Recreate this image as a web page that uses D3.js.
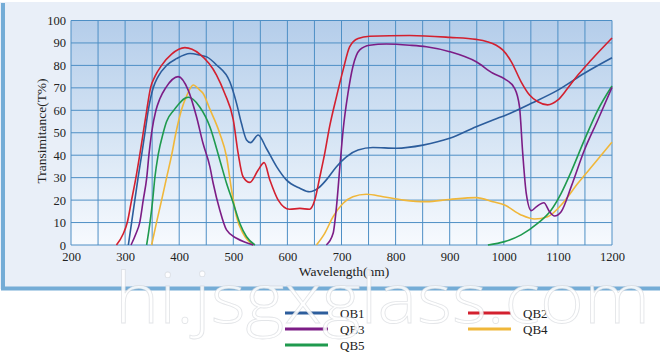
<!DOCTYPE html>
<html><head><meta charset="utf-8">
<script src="https://cdn.jsdelivr.net/npm/d3@7"></script>
<style>body{margin:0;background:#fff;}svg{display:block;}</style>
</head><body>
<svg id="c" width="660" height="353"></svg>
<script>
// ---- data ----
const seriesNames = ["QB1","QB2","QB3","QB4","QB5"];
const xTicks = [200,300,400,500,600,700,800,900,1000,1100,1200];
const yTicks = [0,10,20,30,40,50,60,70,80,90,100];
const qb1 = [[306,0],[312,10],[318,20],[324,30],[330.5,40],[336.7,50],[342.8,60],[352,70],[361,75],[376.7,80],[395,83],[420,85.3],[438,84.6],[451,83.8],[469,80.2],[493.6,72.7],[506,63.1],[515,54.2],[524.5,46.8],[532,45.6],[546,49],[561,43.1],[580,34.9],[598,29],[623,25.3],[641,23.7],[657,25.3],[672,29],[690.7,34.9],[709,39.3],[730.6,42.3],[758,43.4],[801.5,43.1],[850.6,44.5],[900,47.5],[949,52.7],[980,55.7],[1010,58.5],[1050.8,63.1],[1100,69],[1149,76.5],[1200,83.4]];
const qb2 = [[284,0],[296.6,5],[304,10],[312,20],[320,30],[327,40],[333.5,50],[340,60],[347,70],[355,75],[367.5,80],[386,85],[410.5,87.9],[438,85],[469,75.7],[484,67.6],[500,55.7],[509,40.8],[518,30.4],[530.6,27.9],[546,33.4],[557,36.7],[567.5,29],[583,20],[604,15.9],[623,16.3],[641,15.9],[650.6,20],[660,30.4],[669,40.8],[678,52.7],[690.7,66],[703,78],[715,88.3],[730.6,92],[752,93],[826,93.3],[900,92.5],[949,91.6],[986,89],[998,86.9],[1014,81.6],[1032,72.7],[1047.6,66.8],[1063,63.8],[1081,62.4],[1100,64.6],[1118,69.8],[1137,75.7],[1161.6,82.4],[1200,92.2]];
const qb3 = [[311,0],[320,5],[327,10],[333.5,20],[340,30],[344,40],[349,50],[357,60],[364,65],[375,70],[398,75],[416.6,69],[432,57.1],[444,45.3],[456.7,34.9],[462.8,27.5],[475,15.6],[487.5,6.7],[506,3],[524.5,1],[537,0],[600,null],[672,0],[684.5,5.2],[690.7,17],[697,34.9],[703,51.2],[712,67.6],[721,79.4],[733.7,86.9],[752,89],[783,89.5],[826,89],[857,88.3],[900,86.1],[949,81.6],[980,76.5],[1001.5,74],[1020,69.8],[1029,61.6],[1035,40.8],[1041.5,23],[1050.8,15.3],[1060,17],[1074,18.8],[1084.6,14.8],[1093.7,12.9],[1106,14.8],[1124.6,26],[1149,42.3],[1173.8,55.7],[1200,70.2]];
const qb4 = [[349,0],[358,10],[367.5,20],[376.7,30],[386,40],[394,50],[404,60],[414.8,67],[426,71.3],[438,69],[444,67.6],[456.7,60.5],[475,49.7],[487.5,39.3],[496.8,24.5],[506,12.6],[518,5.2],[537,0],[600,null],[653.7,0],[669,5.2],[684.5,12.6],[703,18.6],[721,21.5],[746,22.6],[776.7,21.5],[815,20],[857,19.3],[900,20.3],[949,21.1],[980,19.3],[1001.5,17.8],[1032,13.4],[1056.9,11.6],[1081,12.6],[1106,17.8],[1137,27.5],[1167.7,36.4],[1200,45.8]];
const qb5 = [[339.8,0],[346,10],[351,20],[355,30],[361,40],[370.5,50],[376.7,55],[390,60],[416.6,65.8],[438,61.5],[456.7,52.7],[475,37.9],[487.5,27.5],[500,18.6],[512,9.7],[524.5,3.7],[540,0],[700,null],[970.6,0],[1001.5,1.5],[1032,4.5],[1063,9.7],[1087.7,15.6],[1106,23],[1124.6,32.7],[1149,46.8],[1173.8,60.1],[1200,70.8]];
const seriesData = [qb1,qb2,qb3,qb4,qb5];
const seriesColors = ["#2c5d9c","#d3202f","#7c1d86","#f0b73a","#1f9a4e"];
const drawOrder = [3,4,2,0,1];

// ---- layout ----
const svg = d3.select("#c");
const L = 71, R = 612, T = 20.5, B = 245;
const x = d3.scaleLinear().domain([200,1200]).range([L,R]);
const y = d3.scaleLinear().domain([0,100]).range([B,T]);

const defs = svg.append("defs");
const g1 = defs.append("linearGradient").attr("id","pg").attr("x1",0).attr("y1",0).attr("x2",0).attr("y2",1);
g1.append("stop").attr("offset","0%").attr("stop-color","#b4cdea");
g1.append("stop").attr("offset","55%").attr("stop-color","#d8e6f5");
g1.append("stop").attr("offset","100%").attr("stop-color","#f7fafe");

// outer panel
svg.append("rect").attr("x",0).attr("y",2).attr("width",660).attr("height",287).attr("fill","#e9eff8");
svg.append("rect").attr("x",1).attr("y",3).attr("width",4).attr("height",287).attr("fill","#74acd6");
svg.append("rect").attr("x",1).attr("y",286.5).attr("width",659).attr("height",4).attr("fill","#74acd6");

// plot area
svg.append("rect").attr("x",L).attr("y",T).attr("width",R-L).attr("height",B-T).attr("fill","url(#pg)");

// grid
const grid = svg.append("g").attr("stroke","#4e8fc5").attr("stroke-width",1).attr("fill","none");
grid.selectAll("line.v").data(d3.range(200,1201,50)).join("line")
  .attr("x1",d=>x(d)).attr("x2",d=>x(d)).attr("y1",T).attr("y2",B);
grid.selectAll("line.h").data(d3.range(0,101,10)).join("line")
  .attr("x1",L).attr("x2",R).attr("y1",d=>y(d)).attr("y2",d=>y(d));

// axes labels
const xAxis = d3.axisBottom(x).tickValues(xTicks).tickFormat(d3.format("d")).tickSize(0).tickPadding(7);
const gx = svg.append("g").attr("transform",`translate(0,${B})`).call(xAxis);
gx.select(".domain").remove();
gx.selectAll("text").attr("font-family","'Liberation Serif','DejaVu Serif',serif").attr("font-size",12.5).attr("fill","#222");

const yAxis = d3.axisLeft(y).tickValues(yTicks).tickFormat(d3.format("d")).tickSize(0).tickPadding(5);
const gy = svg.append("g").attr("transform",`translate(${L},0)`).call(yAxis);
gy.select(".domain").remove();
gy.selectAll("text").attr("font-family","'Liberation Serif','DejaVu Serif',serif").attr("font-size",12.5).attr("fill","#222");

svg.append("text").attr("x",344).attr("y",276).attr("text-anchor","middle")
  .attr("font-family","'Liberation Serif',serif").attr("font-size",13.5).attr("fill","#222").text("Wavelength(nm)");
svg.append("text").attr("transform","translate(46,131) rotate(-90)").attr("text-anchor","middle")
  .attr("font-family","'Liberation Serif',serif").attr("font-size",13.5).attr("fill","#222").text("Transimitance(T%)");

// curves
const line = d3.line().defined(d=>d[1]!=null).x(d=>x(d[0])).y(d=>y(d[1])).curve(d3.curveMonotoneX);
const cg = svg.append("g").attr("fill","none").attr("stroke-width",1.6);
drawOrder.forEach(i=>{
  cg.append("path").attr("d",line(seriesData[i])).attr("stroke",seriesColors[i]);
});

// legend
const legPos = [[285,313],[468,313],[285,329],[468,329],[285,345]];
const lg = svg.append("g");
seriesNames.forEach((n,i)=>{
  const [lx,ly] = legPos[i];
  lg.append("line").attr("x1",lx).attr("x2",lx+43).attr("y1",ly).attr("y2",ly)
    .attr("stroke",seriesColors[i]).attr("stroke-width",3);
  lg.append("text").attr("x",lx+55).attr("y",ly+4.5)
    .attr("font-family","'Liberation Serif',serif").attr("font-size",13).attr("fill","#222").text(n);
});

// watermark
svg.append("text").attr("x",115).attr("y",323).attr("textLength",535).attr("lengthAdjust","spacingAndGlyphs")
  .attr("font-family","'Open Sans','DejaVu Sans',sans-serif").attr("font-weight",300).attr("font-size",70)
  .attr("fill","#ffffff").attr("fill-opacity",0.88).attr("stroke","#c8ccd2").attr("stroke-opacity",0.5).attr("stroke-width",0.8)
  .text("hi.jsgxglass.com");
</script>
</body></html>
